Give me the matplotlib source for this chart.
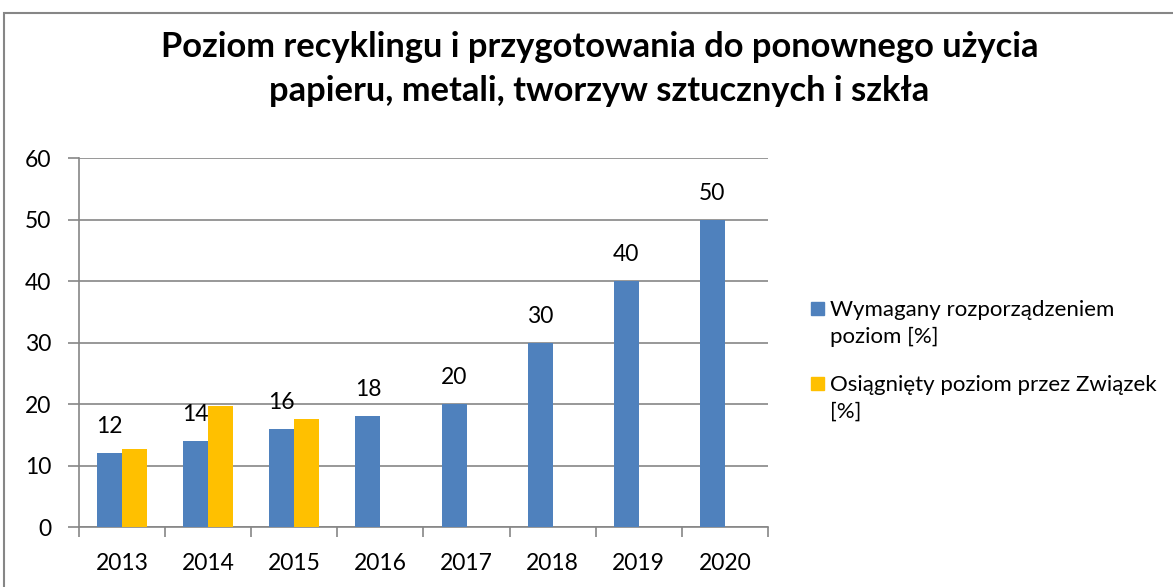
import numpy as np
import matplotlib.pyplot as plt
from matplotlib.patches import Rectangle

years = ["2013", "2014", "2015", "2016", "2017", "2018", "2019", "2020"]
required = [12, 14, 16, 18, 20, 30, 40, 50]
achieved = [12.7, 19.7, 17.5]
legend_labels = ["Wymagany rozporządzeniem\npoziom [%]",
                 "Osiągnięty poziom przez Związek\n[%]"]
title = ("Poziom recyklingu i przygotowania do ponownego użycia\n"
         "papieru, metali, tworzyw sztucznych i szkła")

blue = "#4F81BD"
yellow = "#FFC000"
gray = "#868686"

plt.rcParams['font.family'] = ['Lato', 'DejaVu Sans']

W, H = 1173, 587
fig = plt.figure(figsize=(W / 100, H / 100), dpi=100)
ax = fig.add_axes([0.0673, 0.1022, 0.5874, 0.6286])

x = np.arange(len(years))
w = 0.29
ax.bar(x - w / 2, required, width=w, color=blue, zorder=3)
ax.bar(x[:len(achieved)] + w / 2, achieved, width=w, color=yellow, zorder=3)

for xi, v in zip(x, required):
    ax.text(xi - w / 2, v + 2.6, str(v), ha="center", va="bottom", fontsize=16.5)

ax.set_xlim(-0.5, len(years) - 0.5)
ax.set_ylim(0, 60)
ax.set_yticks(range(0, 61, 10))
ax.yaxis.grid(True, color=gray, linewidth=1.2, zorder=0)
ax.set_axisbelow(True)

ax.set_xticks(x)
ax.set_xticklabels(years)
ax.set_xticks(np.arange(-0.5, len(years), 1), minor=True)
ax.tick_params(axis="x", which="major", length=0, pad=19, labelsize=16.5)
ax.tick_params(axis="x", which="minor", length=7, width=1.2, color=gray, direction="out")
ax.tick_params(axis="y", length=8, width=1.2, color=gray, labelsize=16.5, pad=12)

for s in ["top", "right"]:
    ax.spines[s].set_visible(False)
for s in ["left", "bottom"]:
    ax.spines[s].set_color(gray)
    ax.spines[s].set_linewidth(1.2)

fig.text(0.511, 0.883, title, ha="center", va="center", fontsize=24.8,
         fontweight="bold", linespacing=1.47)

# legend drawn by hand: square lines up with the first text line
entry_top = [302, 377]   # pixel rows of legend squares
line_step = 27
for color, label, top in zip([blue, yellow], legend_labels, entry_top):
    fig.patches.append(Rectangle((811 / W, 1 - (top + 13) / H), 13 / W, 13 / H,
                                 transform=fig.transFigure, color=color))
    for i, line in enumerate(label.split("\n")):
        fig.text(830 / W, 1 - (top + 14 + i * line_step) / H, line,
                 ha="left", va="baseline", fontsize=16)

fig.patches.append(Rectangle((4 / W, -0.1), 1.2, 1 - 13 / H + 0.1,
                             transform=fig.transFigure, fill=False,
                             edgecolor=gray, linewidth=1.5))

fig.savefig("out.png", dpi=100)
